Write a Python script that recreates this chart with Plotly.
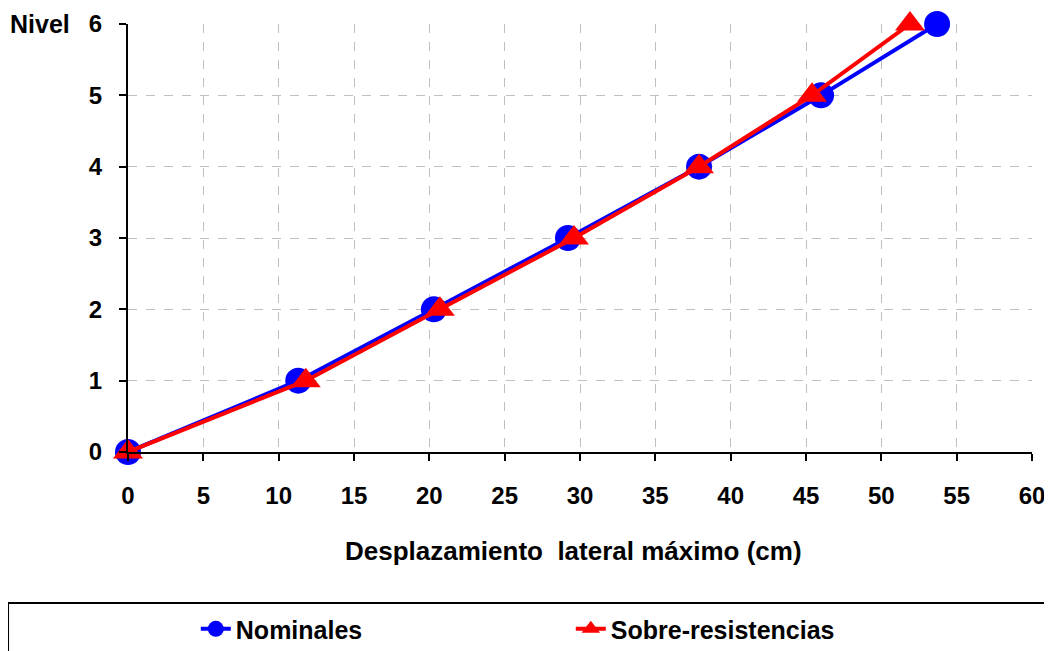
import plotly.graph_objects as go

niveles = [0, 1, 2, 3, 4, 5, 6]
nominales = [0, 11.3, 20.3, 29.2, 37.9, 46.0, 53.7]
sobre_resistencias = [0, 11.8, 20.7, 29.6, 37.9, 45.4, 51.9]

FONT = "Liberation Sans, Arial, sans-serif"

fig = go.Figure()
fig.add_trace(go.Scatter(
    x=nominales, y=niveles, name="<b>Nominales</b>", mode="lines+markers",
    line=dict(color="#0000FF", width=4),
    marker=dict(symbol="circle", size=26, color="#0000FF"),
    cliponaxis=False,
))
fig.add_trace(go.Scatter(
    x=sobre_resistencias, y=niveles, name="<b>Sobre-resistencias</b>", mode="lines+markers",
    line=dict(color="#FF0000", width=4),
    marker=dict(symbol="triangle-up", size=26, color="#FF0000"),
    cliponaxis=False,
))

# page body has an 8px margin, offsets below are relative to the figure
fig.update_layout(
    width=1044, height=643,
    margin=dict(l=120, r=20, t=16, b=199, autoexpand=False),
    paper_bgcolor="white", plot_bgcolor="white",
    font=dict(family=FONT, size=25, color="black"),
    showlegend=True,
    legend=dict(
        orientation="h", x=0.075, y=-0.36, xanchor="left", yanchor="top",
        entrywidth=330, entrywidthmode="pixels",
        font=dict(size=25, color="black"),
        bgcolor="rgba(0,0,0,0)",
    ),
)

fig.update_xaxes(
    range=[0, 60], dtick=5, tick0=0,
    showline=True, linecolor="black", linewidth=2,
    ticks="outside", ticklen=7, tickwidth=2, tickcolor="black",
    showgrid=True, gridcolor="#c0c0c0", gridwidth=1, griddash="dash",
    zeroline=False,
    tickfont=dict(size=24, family=FONT),
    ticklabelstandoff=14,
    tickprefix="<b>", ticksuffix="</b>",
)
fig.update_yaxes(
    range=[0, 6], dtick=1, tick0=0,
    showline=True, linecolor="black", linewidth=2,
    ticks="outside", ticklen=7, tickwidth=2, tickcolor="black",
    showgrid=True, gridcolor="#c0c0c0", gridwidth=1, griddash="dash",
    zeroline=False,
    tickfont=dict(size=24, family=FONT),
    ticklabelstandoff=12,
    tickprefix="<b>", ticksuffix="</b>",
)

fig.add_annotation(
    text="<b>Nivel</b>", xref="paper", yref="y", x=-0.062, y=6,
    xanchor="right", yanchor="middle", showarrow=False, font=dict(size=25),
)
fig.add_annotation(
    text="<b>Desplazamiento  lateral máximo (cm)</b>", xref="paper", yref="paper",
    x=0.493, y=-0.231, xanchor="center", yanchor="middle", showarrow=False,
    font=dict(size=26),
)

# legend frame
fig.add_shape(
    type="rect", xref="paper", yref="paper",
    x0=-0.1327, x1=1.05, y0=-0.353, y1=-0.6,
    line=dict(color="black", width=2), fillcolor="rgba(0,0,0,0)",
)

fig.write_html("out.html")
